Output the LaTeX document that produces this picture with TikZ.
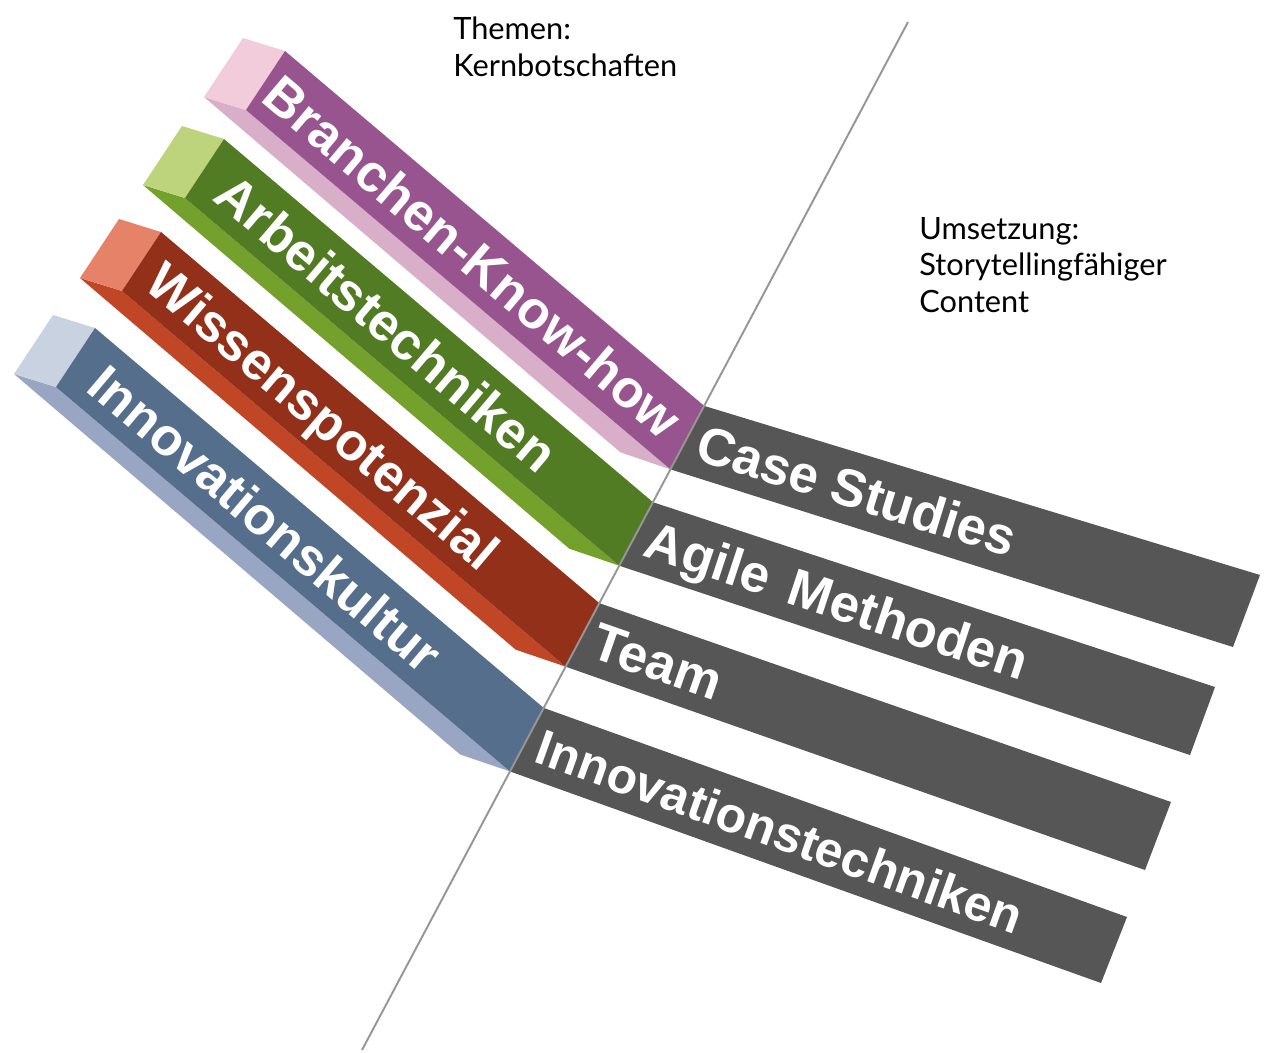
\documentclass[tikz,border=0pt]{standalone}
\usepackage{fontspec}
\setmainfont{Lato}
\newfontfamily\balkenfont{Liberation Sans}
\usetikzlibrary{calc}

% Farben der Balken
\definecolor{lila}{RGB}{152,84,142}
\definecolor{lilaSeite}{RGB}{216,174,200}
\definecolor{lilaKappe}{RGB}{242,204,218}
\definecolor{gruen}{RGB}{82,124,36}
\definecolor{gruenSeite}{RGB}{116,160,44}
\definecolor{gruenKappe}{RGB}{190,212,124}
\definecolor{rot}{RGB}{146,48,26}
\definecolor{rotSeite}{RGB}{192,70,38}
\definecolor{rotKappe}{RGB}{230,130,104}
\definecolor{blau}{RGB}{84,110,140}
\definecolor{blauSeite}{RGB}{152,166,196}
\definecolor{blauKappe}{RGB}{200,210,224}
\definecolor{grau}{RGB}{86,86,86}
\definecolor{linie}{RGB}{150,150,150}

\tikzset{
    balkentext/.style={font=\balkenfont\bfseries\fontsize{30}{30}\selectfont, text=white,
        inner sep=0pt, text height=21.5pt, text depth=0pt, anchor=west},
    kopftext/.style={font=\fontsize{17.5}{20.7}\selectfont, align=left, inner sep=0pt, anchor=base west},
}

% farbiger Balken: Name, Ecke oben links, Farbe, Textanfang (pos), Text
\newcommand{\themenbalken}[5]{
    \coordinate (#1-tl) at (#2);
    \coordinate (#1-bl) at ($(#1-tl)+(-39,59)$);
    \coordinate (#1-t2) at ($(#1-tl)+(763,646)$);
    \coordinate (#1-b2) at ($(#1-bl)+(763,646)$);
    \coordinate (#1-tr) at (intersection of #1-tl--#1-t2 and L1--L2);
    \coordinate (#1-br) at (intersection of #1-bl--#1-b2 and L1--L2);
    \fill[#3Seite] (#1-bl) -- (#1-br) -- ++(-50,-17) -- ($(#1-bl)+(-42,-13)$) -- cycle;
    \fill[#3Kappe] (#1-tl) -- (#1-bl) -- ++(-42,-13) -- ($(#1-tl)+(-42,-13)$) -- cycle;
    \fill[#3] (#1-tl) -- (#1-tr) -- (#1-br) -- (#1-bl) -- cycle;
    \path ($(#1-tl)!0.5!(#1-bl)$) -- ($(#1-tr)!0.5!(#1-br)$)
        node[balkentext, pos=#4, sloped] (#1-text) {#5};
}

% grauer Balken: Name des farbigen Balkens, Ecke oben rechts, Ecke unten rechts, Text
\newcommand{\umsetzungsbalken}[4]{
    \fill[grau] (#1-tr) -- (#2) -- (#3) -- (#1-br) -- cycle;
    \path ($(#1-tr)!0.5!(#1-br)$) -- ($(#2)!0.5!(#3)$)
        node[balkentext, pos=0.02, sloped] (#1-ziel) {#4};
}

\begin{document}
\begin{tikzpicture}[x=0.02cm, y=-0.02cm]
    % Rahmen
    \useasboundingbox (0,0) rectangle (1267,1052);

    % Trennlinie
    \coordinate (L1) at (908,22);
    \coordinate (L2) at (362,1050);

    % Themen (links)
    \themenbalken{branche}{285,51}{lila}{0.015}{Branchen-Know-how}
    \themenbalken{arbeit}{224,139}{gruen}{0.044}{Arbeitstechniken}
    \themenbalken{wissen}{161,232}{rot}{0.03}{Wissenspotenzial}
    \themenbalken{kultur}{95,328}{blau}{0.047}{Innovationskultur}

    % Umsetzung (rechts)
    \umsetzungsbalken{branche}{1260,575}{1233,647}{Case Studies}
    \umsetzungsbalken{arbeit}{1215,687}{1190,755}{Agile\hspace{4pt} Methoden}
    \umsetzungsbalken{wissen}{1171,802}{1145,870}{Team}
    \umsetzungsbalken{kultur}{1127,917}{1101,983}{\fontsize{28.4}{28}\selectfont Innovationstechniken}

    \draw[linie, line width=1.1pt] (L1) -- (L2);

    % Ueberschriften
    \node[kopftext] (themen) at (453,76) {Themen:\\Kernbotschaften};
    \node[kopftext] (umsetzung) at (919,312) {Umsetzung:\\Storytellingfähiger\\Content};
\end{tikzpicture}
\end{document}
